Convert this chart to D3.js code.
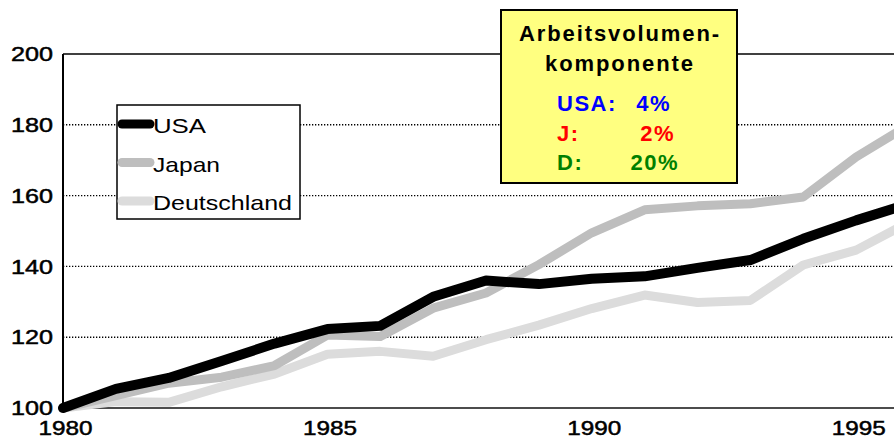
<!DOCTYPE html>
<html>
<head>
<meta charset="utf-8">
<script src="https://cdn.jsdelivr.net/npm/d3@7"></script>
<style>
  body { margin: 0; background: #fff; }
  svg { display: block; font-family: 'Liberation Sans', Arial, sans-serif; }
</style>
</head>
<body>
<div id="chart"></div>
<script>
const years = [1980, 1981, 1982, 1983, 1984, 1985, 1986, 1987, 1988, 1989, 1990, 1991, 1992, 1993, 1994, 1995, 1996]
const usa = [100, 105.4, 108.5, 113.3, 118.2, 122.3, 123.2, 131.4, 136, 135, 136.5, 137.2, 139.6, 141.8, 147.8, 153, 157.7]
const japan = [100, 103.5, 107, 108.7, 112, 120.6, 120.2, 128.2, 132.5, 140.5, 149.5, 156, 157.1, 157.7, 159.6, 170.9, 180]
const deutschland = [100, 101.8, 101.6, 106, 109.6, 115.2, 116, 114.6, 119.3, 123.4, 128.1, 131.9, 129.8, 130.4, 140.4, 144.6, 152.5]
const seriesNames = ['USA', 'Japan', 'Deutschland']
const yTicks = [100, 120, 140, 160, 180, 200]
const xTicks = [1980, 1985, 1990, 1995]
const boxTitle = ['Arbeitsvolumen-', 'komponente']
const boxLabels = ['USA:', 'J:', 'D:']
const boxValues = ['4%', '2%', '20%']

const W = 894, H = 441
const MARGIN = { TOP: 54, LEFT: 63, BOTTOM: 33 }

const svg = d3.select('#chart').append('svg')
    .attr('width', W)
    .attr('height', H)

const x = d3.scaleLinear().domain([1980, 1996]).range([MARGIN.LEFT, 909])
const y = d3.scaleLinear().domain([100, 200]).range([H - MARGIN.BOTTOM, MARGIN.TOP])

// dotted grid
svg.append('g').selectAll('line')
    .data(yTicks.filter(d => d > 100 && d < 200))
    .join('line')
        .attr('x1', MARGIN.LEFT).attr('x2', W)
        .attr('y1', d => y(d)).attr('y2', d => y(d))
        .attr('stroke', '#000')
        .attr('stroke-width', 1.4)
        .attr('stroke-dasharray', '1.3,1.7')

// frame: top, bottom, left
svg.append('line')
    .attr('x1', MARGIN.LEFT).attr('x2', W)
    .attr('y1', y(200)).attr('y2', y(200))
    .attr('stroke', '#000').attr('stroke-width', 1.6)
svg.append('line')
    .attr('x1', MARGIN.LEFT).attr('x2', W)
    .attr('y1', y(100)).attr('y2', y(100))
    .attr('stroke', '#111').attr('stroke-width', 1.6)
svg.append('line')
    .attr('x1', MARGIN.LEFT).attr('x2', MARGIN.LEFT)
    .attr('y1', y(200)).attr('y2', y(100))
    .attr('stroke', '#000').attr('stroke-width', 2)

// axes (labels only)
const yAxis = svg.append('g')
    .attr('transform', `translate(${MARGIN.LEFT - 10}, 0)`)
    .call(d3.axisLeft(y).tickValues(yTicks).tickSize(0).tickPadding(0))
yAxis.select('.domain').remove()
yAxis.selectAll('text')
    .attr('font-size', 21)
    .attr('font-family', "'Liberation Sans', Arial, sans-serif")
    .attr('fill', '#000')
    .attr('stroke', '#000').attr('stroke-width', 0.5)
    .attr('textLength', 42)
    .attr('lengthAdjust', 'spacingAndGlyphs')

const xAxis = svg.append('g')
    .attr('transform', `translate(2, ${y(100)})`)
    .call(d3.axisBottom(x).tickValues(xTicks).tickFormat(d3.format('d')).tickSize(0).tickPadding(12))
xAxis.select('.domain').remove()
xAxis.selectAll('text')
    .attr('font-size', 21)
    .attr('font-family', "'Liberation Sans', Arial, sans-serif")
    .attr('fill', '#000')
    .attr('stroke', '#000').attr('stroke-width', 0.5)
    .attr('textLength', 54)
    .attr('lengthAdjust', 'spacingAndGlyphs')

// lines
const series = [
    { name: 'Deutschland', values: deutschland, color: '#dcdcdc', width: 9 },
    { name: 'Japan', values: japan, color: '#bebebe', width: 9 },
    { name: 'USA', values: usa, color: '#000', width: 10 }
]
const line = d3.line()
    .x((d, i) => x(years[i]))
    .y(d => y(d))

svg.append('g').selectAll('path')
    .data(series)
    .join('path')
        .attr('d', d => line(d.values))
        .attr('fill', 'none')
        .attr('stroke', d => d.color)
        .attr('stroke-width', d => d.width)
        .attr('stroke-linejoin', 'round')
        .attr('stroke-linecap', 'round')

// legend
const legend = svg.append('g')
legend.append('rect')
    .attr('x', 117).attr('y', 105)
    .attr('width', 183).attr('height', 114)
    .attr('fill', '#fff')
    .attr('stroke', '#000').attr('stroke-width', 1.5)

const legendColor = { USA: '#000', Japan: '#bebebe', Deutschland: '#dcdcdc' }
const legendLen = { USA: 53, Japan: 67, Deutschland: 139 }
const rows = legend.selectAll('g.row')
    .data(seriesNames)
    .join('g')
        .attr('class', 'row')
        .attr('transform', (d, i) => `translate(0, ${124 + i * 38.5})`)
rows.append('line')
    .attr('x1', 122).attr('x2', 150)
    .attr('stroke', d => legendColor[d])
    .attr('stroke-width', 9)
    .attr('stroke-linecap', 'round')
rows.append('text')
    .attr('x', 153).attr('y', 9)
    .attr('font-size', 21)
    .attr('fill', '#000')
    .attr('textLength', d => legendLen[d])
    .attr('lengthAdjust', 'spacingAndGlyphs')
    .text(d => d)

// annotation box
const box = svg.append('g')
box.append('rect')
    .attr('x', 501).attr('y', 10)
    .attr('width', 236).attr('height', 173)
    .attr('fill', '#ffff80')
    .attr('stroke', '#000').attr('stroke-width', 2)

box.selectAll('text.title')
    .data(boxTitle)
    .join('text')
        .attr('class', 'title')
        .attr('x', 620)
        .attr('y', (d, i) => 41 + i * 30)
        .attr('text-anchor', 'middle')
        .attr('font-size', 22)
        .attr('font-weight', 'bold')
        .attr('letter-spacing', 1.9)
        .attr('fill', '#000')
        .text(d => d)

const boxColors = ['#0000ff', '#ff0000', '#008000']
box.selectAll('text.lab')
    .data(boxLabels)
    .join('text')
        .attr('class', 'lab')
        .attr('x', 557)
        .attr('y', (d, i) => 111 + i * 29.5)
        .attr('font-size', 22)
        .attr('font-weight', 'bold')
        .attr('letter-spacing', 1.5)
        .attr('fill', (d, i) => boxColors[i])
        .text(d => d)
box.selectAll('text.val')
    .data(boxValues)
    .join('text')
        .attr('class', 'val')
        .attr('x', (d, i) => [671, 675, 679][i])
        .attr('y', (d, i) => 111 + i * 29.5)
        .attr('text-anchor', 'end')
        .attr('font-size', 22)
        .attr('font-weight', 'bold')
        .attr('letter-spacing', 1.5)
        .attr('fill', (d, i) => boxColors[i])
        .text(d => d)
</script>
</body>
</html>
